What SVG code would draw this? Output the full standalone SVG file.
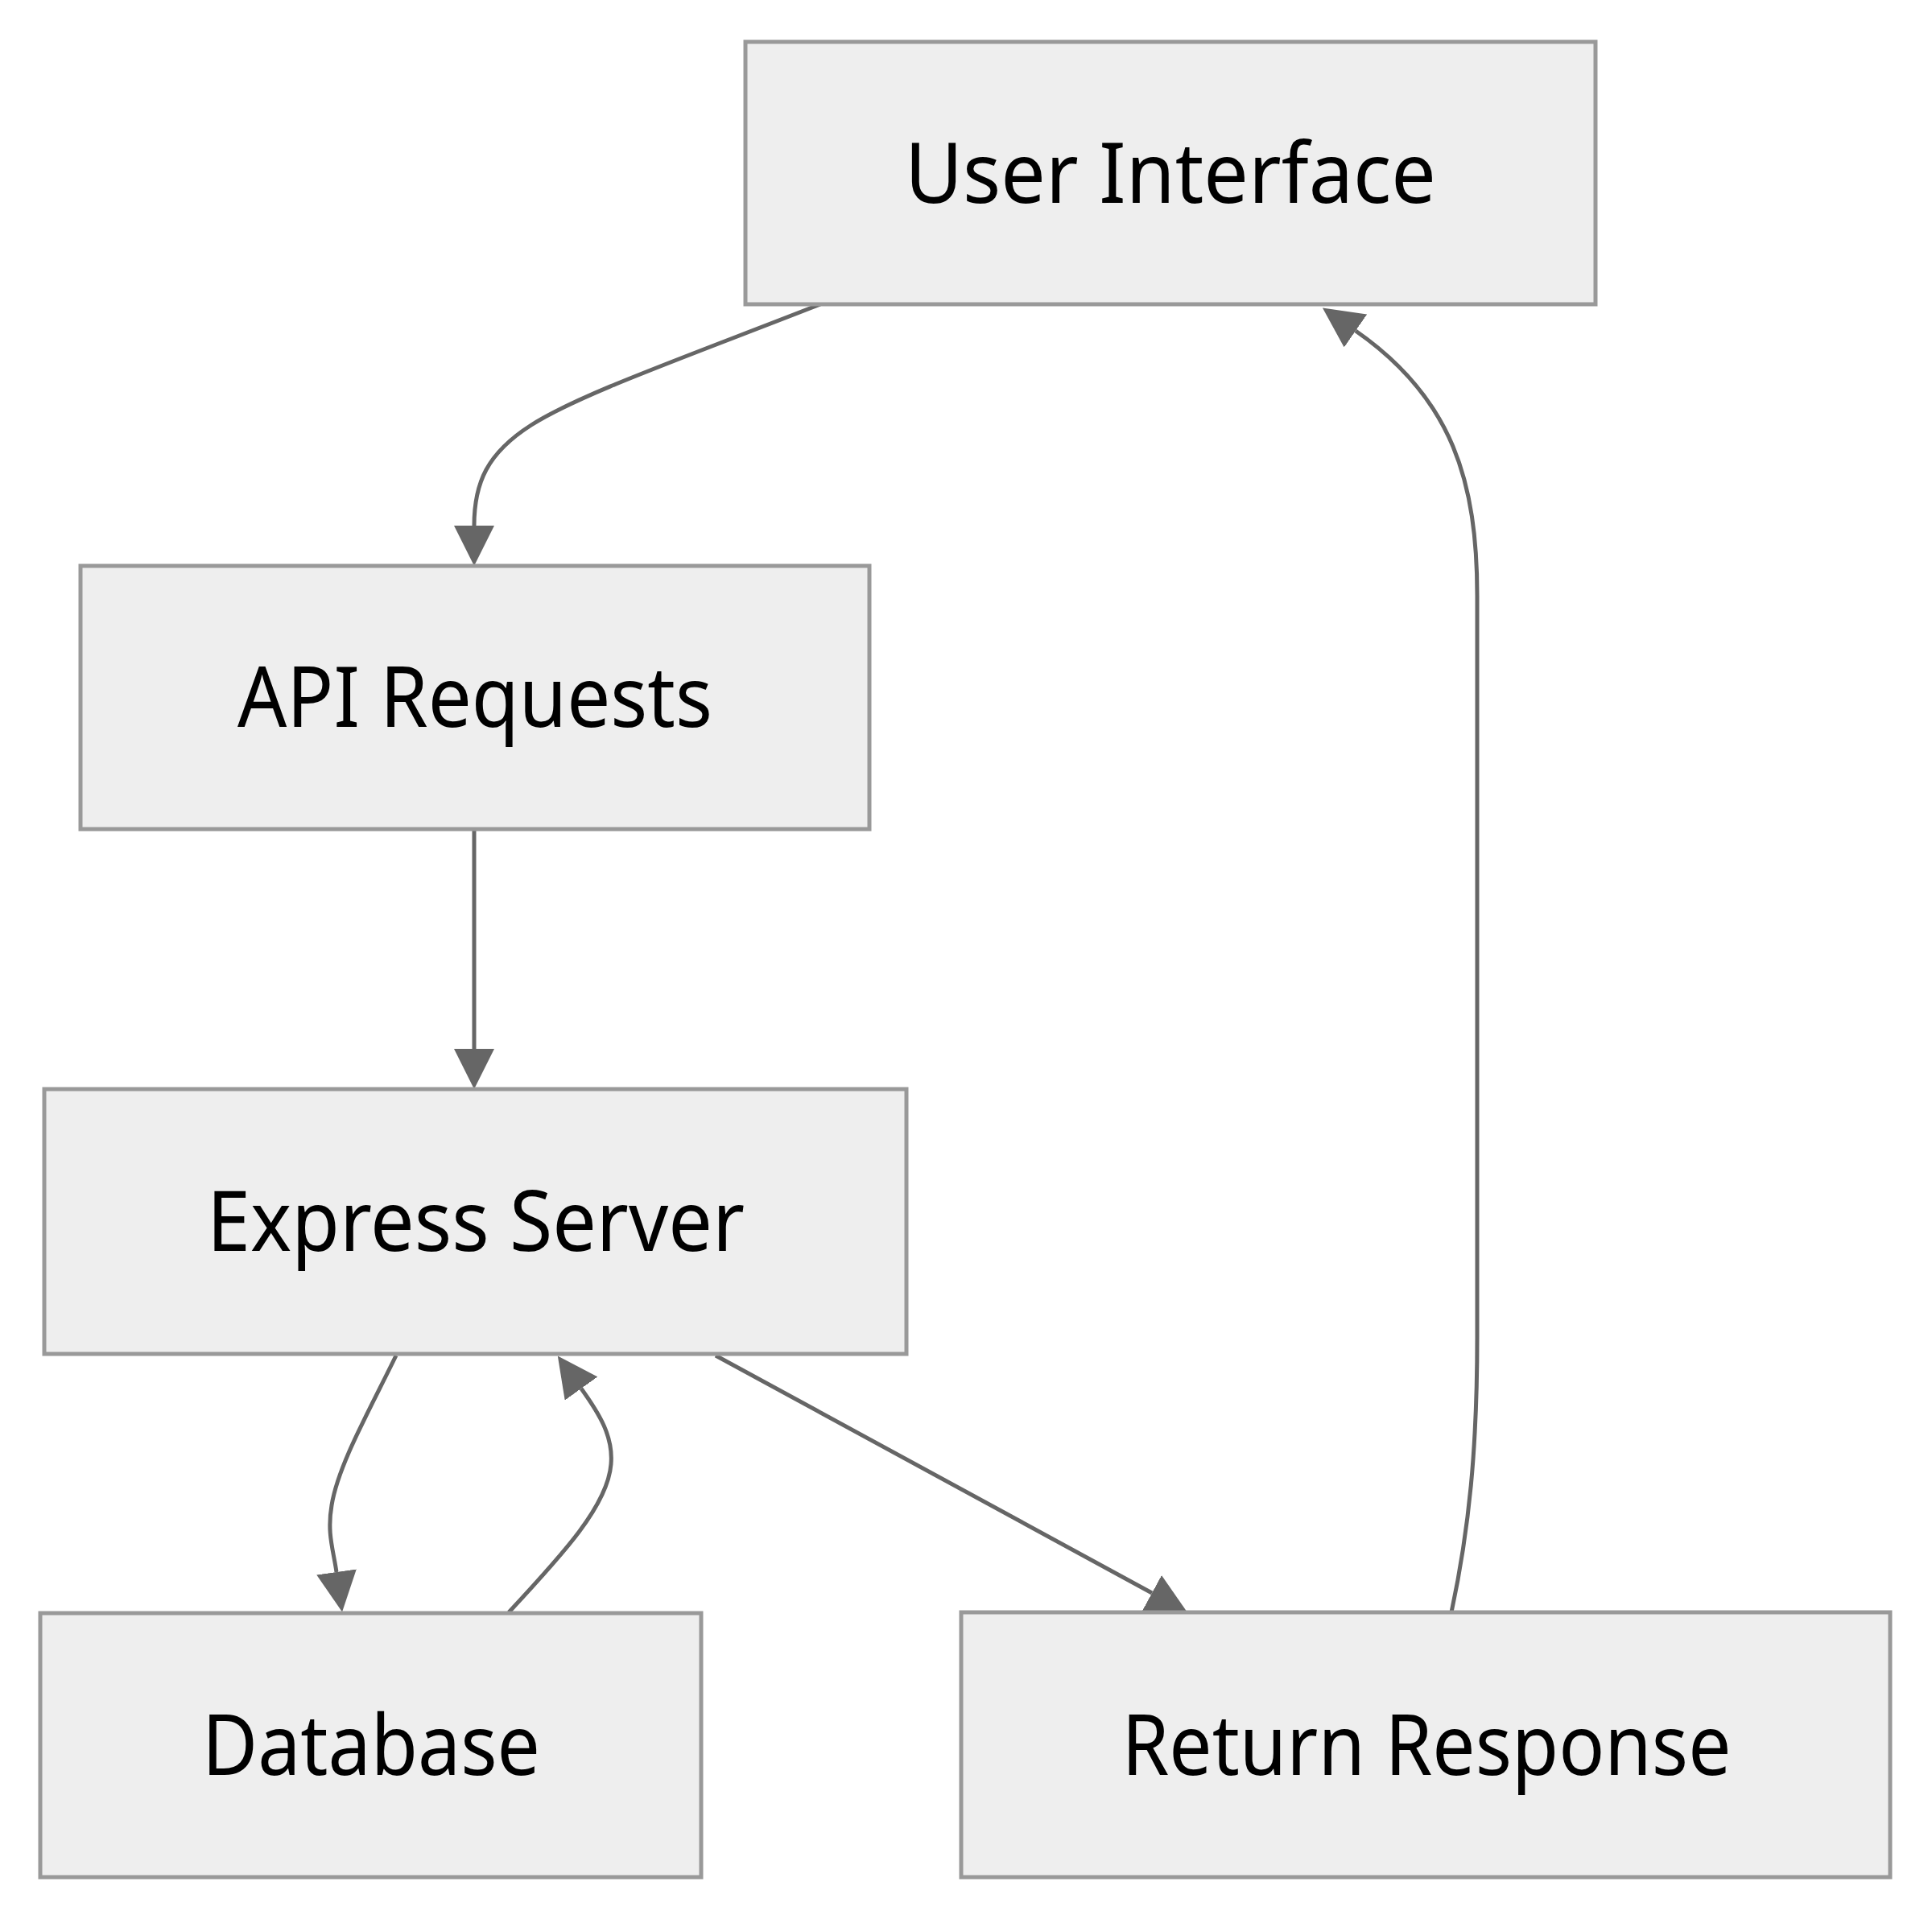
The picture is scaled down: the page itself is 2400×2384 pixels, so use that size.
<svg xmlns="http://www.w3.org/2000/svg" width="2400" height="2384" viewBox="0 0 2400 2384">
<style>
.node rect{fill:#eeeeee;stroke:#999999;stroke-width:5}
.node text{font-family:"Noto Sans","Open Sans",sans-serif;font-size:104px;fill:#000000;text-anchor:middle}
.edge{fill:none;stroke:#666666;stroke-width:5}
</style>
<defs>
<marker id="arrow" viewBox="0 0 10 10" refX="0" refY="5" markerUnits="userSpaceOnUse" markerWidth="50" markerHeight="50" orient="auto">
<path d="M0,0 L10,5 L0,10 z" fill="#666666"/>
</marker>
</defs>
<rect width="2400" height="2384" fill="#ffffff"/>
<g id="connectors">
<path class="edge" marker-end="url(#arrow)" d="M1019,378 C840,448 720,490 660,528 C605,563 589,600 589,653"/>
<path class="edge" marker-end="url(#arrow)" d="M589,1030 L589,1303"/>
<path class="edge" marker-end="url(#arrow)" d="M492,1684 C460,1750 420,1820 412,1870 C406,1905 414,1925 418,1953"/>
<path class="edge" marker-end="url(#arrow)" d="M632,2003 C700,1930 755,1870 759,1819 C762,1785 745,1757 722,1725"/>
<path class="edge" marker-end="url(#arrow)" d="M889,1684 L1431,1979"/>
<path class="edge" marker-end="url(#arrow)" d="M1803,2003 C1825,1900 1835,1800 1835,1661 L1835,740 C1835,600 1805,495 1684,411"/>
</g>
<g id="node-ui" class="node">
<rect x="926" y="52" width="1056" height="326"/>
<text x="1454" y="252" textLength="660" lengthAdjust="spacingAndGlyphs">User Interface</text>
</g>
<g id="node-api" class="node">
<rect x="100" y="703" width="980" height="327"/>
<text x="590" y="903" textLength="590" lengthAdjust="spacingAndGlyphs">API Requests</text>
</g>
<g id="node-express" class="node">
<rect x="55" y="1353" width="1071" height="329"/>
<text x="591" y="1554" textLength="668" lengthAdjust="spacingAndGlyphs">Express Server</text>
</g>
<g id="node-db" class="node">
<rect x="50" y="2004" width="821" height="328"/>
<text x="461" y="2205" textLength="420" lengthAdjust="spacingAndGlyphs">Database</text>
</g>
<g id="node-rr" class="node">
<rect x="1194" y="2003" width="1154" height="329"/>
<text x="1772" y="2205" textLength="757" lengthAdjust="spacingAndGlyphs">Return Response</text>
</g>
</svg>
